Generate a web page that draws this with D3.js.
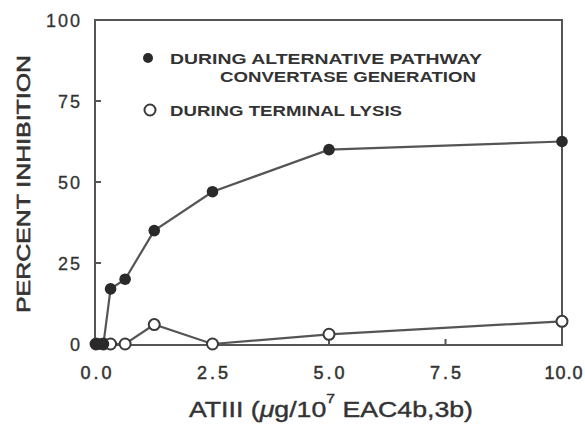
<!DOCTYPE html>
<html>
<head>
<meta charset="utf-8">
<script src="https://cdn.jsdelivr.net/npm/d3@7"></script>
<style>
  body { margin: 0; background: #fff; }
  text { font-family: "Liberation Sans", Arial, sans-serif; fill: #333; }
</style>
</head>
<body>
<script>
// dose of ATIII (ug / 10^7 cells)
var doses = [0, 0.08, 0.16, 0.3125, 0.625, 1.25, 2.5, 5, 10]
var convertase = [0, 0, 0, 17, 20, 35, 47, 60, 62.5]
var lysisDoses = [0, 0.16, 0.3125, 0.625, 1.25, 2.5, 5, 10]
var lysis = [0, 0, 0, 0, 6, 0, 3, 7]
var xTicks = [0, 2.5, 5, 7.5, 10]
var yTicks = [0, 25, 50, 75, 100]

var W = 585, H = 425
var m = { left: 95, right: 23, top: 20, bottom: 80 }

var svg = d3.select("body").append("svg")
  .attr("width", W)
  .attr("height", H)

var x = d3.scaleLinear().domain([0, 10]).range([m.left + 1, W - m.right])
var y = d3.scaleLinear().domain([0, 100]).range([H - m.bottom - 1, m.top])

var ink = "#3a3a3a"

// frame
svg.append("rect")
  .attr("x", m.left).attr("y", m.top)
  .attr("width", W - m.left - m.right).attr("height", H - m.top - m.bottom)
  .attr("fill", "none").attr("stroke", "#555").attr("stroke-width", 2)

// inward ticks
svg.selectAll(".yt").data(yTicks.slice(1, 4)).enter().append("line")
  .attr("x1", m.left).attr("x2", m.left + 6)
  .attr("y1", d => y(d)).attr("y2", d => y(d))
  .attr("stroke", "#555").attr("stroke-width", 2)
svg.selectAll(".xt").data(xTicks.slice(1, 4)).enter().append("line")
  .attr("x1", d => x(d)).attr("x2", d => x(d))
  .attr("y1", H - m.bottom).attr("y2", H - m.bottom - 6)
  .attr("stroke", "#555").attr("stroke-width", 2)

// tick labels
svg.selectAll(".yl").data(yTicks).enter().append("text")
  .attr("x", 82).attr("y", d => y(d) + 7)
  .attr("text-anchor", "end")
  .attr("font-size", 18)
  .attr("letter-spacing", 2)
  .attr("stroke", "#333").attr("stroke-width", 0.3)
  .text(d => d)
svg.selectAll(".xl").data(xTicks).enter().append("text")
  .attr("x", d => d == 10 ? x(d) + 2 : x(d) + 1.5).attr("y", 379)
  .attr("text-anchor", "middle")
  .attr("font-size", 18)
  .attr("letter-spacing", d => d == 10 ? 1 : 3)
  .attr("stroke", "#333").attr("stroke-width", 0.5)
  .text(d => d.toFixed(1))

// axis titles
svg.append("text")
  .attr("transform", "translate(30,184) rotate(-90)")
  .attr("text-anchor", "middle")
  .attr("font-size", 19)
  .attr("stroke", "#333").attr("stroke-width", 0.6)
  .attr("textLength", 258)
  .attr("lengthAdjust", "spacingAndGlyphs")
  .text("PERCENT INHIBITION")

var xt = svg.append("text")
  .attr("x", 189).attr("y", 417)
  .attr("font-size", 22)
  .attr("stroke", "#333").attr("stroke-width", 0.4)
  .attr("textLength", 284)
  .attr("lengthAdjust", "spacingAndGlyphs")
xt.append("tspan").text("ATIII (")
xt.append("tspan").text("\u03bc").attr("font-style", "italic")
xt.append("tspan").text("g/10")
xt.append("tspan").text("7").attr("font-size", 13).attr("dy", -14)
xt.append("tspan").text(" EAC4b,3b)").attr("dy", 14)

// lines
var line = d3.line().x(d => x(d[0])).y(d => y(d[1]))

svg.append("path")
  .datum(d3.zip(lysisDoses, lysis))
  .attr("d", line)
  .attr("fill", "none").attr("stroke", "#555").attr("stroke-width", 2.2)

svg.append("path")
  .datum(d3.zip(doses, convertase))
  .attr("d", line)
  .attr("fill", "none").attr("stroke", "#555").attr("stroke-width", 2.2)

svg.selectAll(".open").data(d3.zip(lysisDoses, lysis)).enter().append("circle")
  .attr("cx", d => x(d[0])).attr("cy", d => y(d[1]))
  .attr("r", 5.5)
  .attr("fill", "#fff").attr("stroke", ink).attr("stroke-width", 2)

svg.selectAll(".filled").data(d3.zip(doses, convertase)).enter().append("circle")
  .attr("cx", d => x(d[0])).attr("cy", d => y(d[1]))
  .attr("r", 5.8)
  .attr("fill", "#2a2a2a")

// legend
svg.append("circle").attr("cx", 148).attr("cy", 58).attr("r", 5).attr("fill", "#2a2a2a")
svg.append("circle").attr("cx", 150).attr("cy", 110).attr("r", 5.5)
  .attr("fill", "#fff").attr("stroke", ink).attr("stroke-width", 2)

var leg = [
  { t: "DURING ALTERNATIVE PATHWAY", x: 170, y: 64, w: 312 },
  { t: "CONVERTASE GENERATION", x: 220, y: 82, w: 256 },
  { t: "DURING TERMINAL LYSIS", x: 170, y: 116, w: 232 }
]
svg.selectAll(".leg").data(leg).enter().append("text")
  .attr("x", d => d.x).attr("y", d => d.y)
  .attr("font-size", 14)
  .attr("font-weight", "bold")
  .attr("textLength", d => d.w)
  .attr("lengthAdjust", "spacingAndGlyphs")
  .text(d => d.t)
</script>
</body>
</html>
